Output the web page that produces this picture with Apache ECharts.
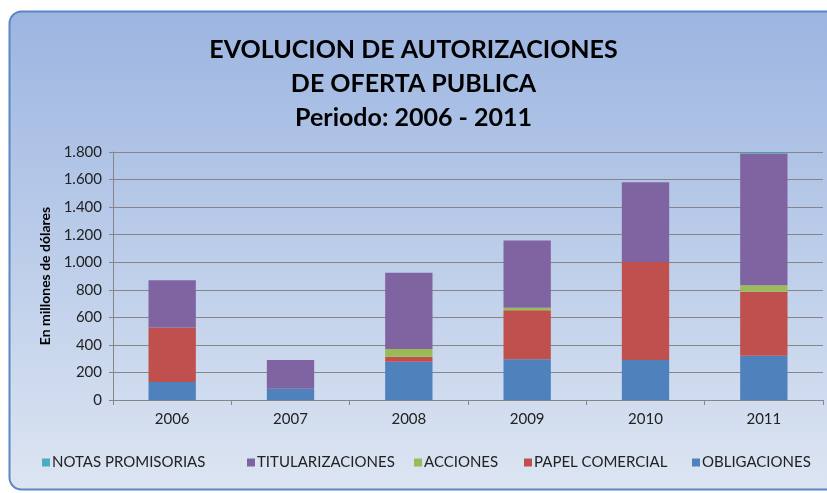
<!DOCTYPE html>
<html><head><meta charset="utf-8">
<script src="https://cdn.jsdelivr.net/npm/echarts@6/dist/echarts.min.js"></script>
<style>html,body{margin:0;padding:0;background:#fff}#c{width:827px;height:493px}</style>
</head><body><div id="c"></div>
<script>
const years = ['2006','2007','2008','2009','2010','2011'];
const obligaciones = [130, 82, 278, 295, 290, 321];
const papelComercial = [397, 0, 36, 357, 712, 464];
const acciones = [0, 0, 56, 17, 0, 48];
const titularizaciones = [343, 208, 553, 488, 578, 955];
const notasPromisorias = [0, 0, 0, 0, 0, 4];
const yTicks = [0, 200, 400, 600, 800, 1000, 1200, 1400, 1600, 1800];

const FONT = 'Lato';
const chart = echarts.init(document.getElementById('c'), null, {renderer:'canvas'});
const seriesDefs = [
  {name:'OBLIGACIONES', data:obligaciones, color:'#4f81bd'},
  {name:'PAPEL COMERCIAL', data:papelComercial, color:'#c0504d'},
  {name:'ACCIONES', data:acciones, color:'#9bbb59'},
  {name:'TITULARIZACIONES', data:titularizaciones, color:'#8064a2'},
  {name:'NOTAS PROMISORIAS', data:notasPromisorias, color:'#4bacc6'}
];
const legendPos = {'NOTAS PROMISORIAS':42,'TITULARIZACIONES':247,'ACCIONES':414,'PAPEL COMERCIAL':524,'OBLIGACIONES':692};
const legends = Object.keys(legendPos).map(n => ({
  data:[n], left:legendPos[n], top:455, padding:0, icon:'rect', itemWidth:8, itemHeight:8, itemGap:0,
  textStyle:{fontFamily:FONT, fontSize:15, color:'#222', padding:[0,0,0,-3]}
}));
chart.setOption({
  animation:false,
  graphic:[{
    type:'rect', z:-10, silent:true,
    shape:{x:9.5, y:11.5, width:830, height:478, r:12},
    style:{
      fill:{type:'linear', x:0, y:0, x2:0, y2:1, colorStops:[{offset:0,color:'#9cb5e1'},{offset:1,color:'#dce5f2'}]},
      stroke:'#5b86c6', lineWidth:2
    }
  }],
  title:{
    text:'EVOLUCION DE AUTORIZACIONES\nDE OFERTA PUBLICA\nPeriodo: 2006 - 2011',
    left:'center', top:28,
    textStyle:{fontFamily:FONT, fontSize:25, fontWeight:'bold', color:'#000', lineHeight:34}
  },
  legend:legends,
  grid:{left:113, right:4, top:152, bottom:93},
  xAxis:{
    type:'category', data:years,
    axisLine:{lineStyle:{color:'#868686', width:1}},
    axisTick:{show:true, length:5, lineStyle:{color:'#868686'}},
    axisLabel:{fontFamily:FONT, fontSize:15, color:'#222', margin:12}
  },
  yAxis:{
    type:'value', min:yTicks[0], max:yTicks[yTicks.length-1], interval:200,
    name:'En millones de dólares', nameLocation:'middle', nameGap:58, nameRotate:90,
    nameTextStyle:{fontFamily:FONT, fontSize:14, fontWeight:'bold', color:'#000'},
    axisLine:{show:true, lineStyle:{color:'#868686'}},
    axisTick:{show:true, length:4, lineStyle:{color:'#868686'}},
    splitLine:{lineStyle:{color:'#868686', width:1}},
    axisLabel:{fontFamily:FONT, fontSize:15, color:'#222', margin:11,
      formatter:v => String(v).replace(/\B(?=(\d{3})+(?!\d))/g,'.')}
  },
  series:seriesDefs.map(s => ({
    type:'bar', name:s.name, stack:'t', data:s.data.map(v=>v===0?null:v),
    barWidth:'40%', itemStyle:{color:s.color}
  }))
});
</script></body></html>
